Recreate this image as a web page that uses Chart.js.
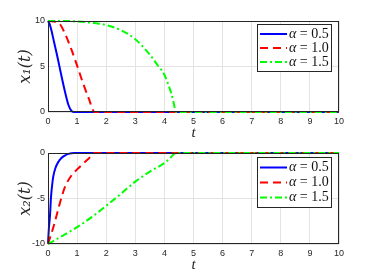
<!DOCTYPE html>
<html>
<head>
<meta charset="utf-8">
<script src="https://cdn.jsdelivr.net/npm/chart.js"></script>
<style>
  html, body { margin: 0; padding: 0; background: #fff; }
  #wrap { position: relative; width: 374px; height: 280px; }
  canvas { position: absolute; left: 0; }
  #c1 { top: 0; }
  #c2 { top: 140px; }
</style>
</head>
<body>
<div id="wrap">
  <canvas id="c1" width="374" height="140"></canvas>
  <canvas id="c2" width="374" height="140"></canvas>
</div>
<script>
// legend values
const alphas = ['0.5', '1.0', '1.5'];
const colors = ['#0000ff', '#ff0000', '#00ff00'];
const dashes = [[], [8, 5], [7, 3, 2, 3]];

const xTicks = [0, 1, 2, 3, 4, 5, 6, 7, 8, 9, 10];
const y1Ticks = [0, 5, 10];
const y2Ticks = [-10, -5, 0];

// x1(t)
const t1a = [0, 0.05, 0.1, 0.2, 0.3, 0.4, 0.5, 0.6, 0.7, 0.8, 0.88, 10];
const x1a = [10, 9.7, 9.2, 7.8, 6.4, 4.9, 3.4, 2.0, 0.8, 0.15, 0, 0];
const t1b = [0, 0.2, 0.4, 0.6, 0.8, 1.0, 1.2, 1.4, 1.6, 10];
const x1b = [10, 9.95, 9.7, 8.5, 6.9, 5.1, 3.2, 1.5, 0, 0];
const t1c = [0, 0.5, 1, 1.5, 2, 2.5, 3, 3.5, 3.8, 4, 4.2, 4.3, 4.4, 10];
const x1c = [10, 10, 9.95, 9.8, 9.55, 9.0, 8.0, 6.3, 5.0, 4.1, 2.4, 1.3, 0, 0];

// x2(t)
const t2a = [0, 0.03, 0.07, 0.1, 0.14, 0.18, 0.25, 0.36, 0.46, 0.58, 0.7, 0.9, 10];
const x2a = [-10, -8.3, -6.8, -5.0, -3.6, -2.6, -1.7, -0.95, -0.55, -0.28, -0.1, 0, 0];
const t2b = [0, 0.1, 0.2, 0.3, 0.4, 0.5, 0.6, 0.8, 1.0, 1.2, 1.4, 1.6, 10];
const x2b = [-10, -9.0, -8.0, -6.8, -5.6, -4.5, -3.6, -2.5, -1.8, -1.2, -0.6, 0, 0];
const t2c = [0, 0.5, 1, 1.5, 2, 2.5, 3, 3.5, 4, 4.2, 4.4, 10];
const x2c = [-10, -9.1, -8.15, -7.05, -5.8, -4.5, -3.15, -2.05, -1.1, -0.55, 0, 0];

const pts = (ts, vs) => ts.map((t, i) => ({ x: t, y: vs[i] }));

function makeDatasets(series) {
  return series.map((s, i) => ({
    label: 'α = ' + alphas[i],
    data: pts(s[0], s[1]),
    borderColor: colors[i],
    borderWidth: 2,
    borderDash: dashes[i],
    pointRadius: 0,
    cubicInterpolationMode: 'monotone',
    clip: 4,
    order: 2 - i
  }));
}

// draws the axes box and a MATLAB-like legend with italic alpha
const boxLegend = {
  id: 'boxLegend',
  afterDraw(chart, args, opts) {
    const ctx = chart.ctx;
    const a = chart.chartArea;
    ctx.save();
    ctx.strokeStyle = '#262626';
    ctx.lineWidth = 1;
    ctx.strokeRect(Math.round(a.left) + 0.5, Math.round(a.top) + 0.5,
      Math.round(a.right - a.left) - 1, Math.round(a.bottom - a.top) - 1);

    const b = opts.box;
    ctx.fillStyle = '#fff';
    ctx.fillRect(b.x, b.y, b.w, b.h);
    ctx.strokeRect(b.x + 0.5, b.y + 0.5, b.w - 1, b.h - 1);
    const rowH = (b.h - 6) / 3;
    chart.data.datasets.forEach((ds, i) => {
      const cy = b.y + 3 + rowH * (i + 0.5);
      ctx.beginPath();
      ctx.setLineDash(ds.borderDash);
      ctx.strokeStyle = ds.borderColor;
      ctx.lineWidth = 2;
      ctx.moveTo(b.x + 3, cy);
      ctx.lineTo(b.x + 30, cy);
      ctx.stroke();
      ctx.setLineDash([]);
      ctx.fillStyle = '#111';
      ctx.textBaseline = 'middle';
      ctx.font = 'italic 14px "Liberation Serif", serif';
      ctx.fillText('α', b.x + 32, cy);
      const w = ctx.measureText('α').width;
      ctx.font = '14px "Liberation Serif", serif';
      ctx.fillText(' = ' + alphas[i], b.x + 32 + w, cy);
    });
    ctx.restore();
  }
};

function makeChart(id, series, yTicks, yTitle, pad, box) {
  return new Chart(document.getElementById(id), {
    type: 'line',
    data: { datasets: makeDatasets(series) },
    plugins: [boxLegend],
    options: {
      responsive: false,
      animation: false,
      layout: { padding: { top: pad.top, bottom: pad.bottom, left: 16, right: 35 } },
      plugins: {
        legend: { display: false },
        tooltip: { enabled: false },
        boxLegend: { box: box }
      },
      scales: {
        x: {
          type: 'linear',
          min: 0, max: 10,
          afterBuildTicks: s => { s.ticks = xTicks.map(v => ({ value: v })); },
          afterFit: s => { s.height = 30; },
          grid: { color: '#e3e3e3', drawTicks: false },
          border: { display: false },
          ticks: { color: '#262626', font: { size: 9, family: 'Liberation Sans, Arial, sans-serif' }, padding: 4, maxRotation: 0 },
          title: { display: true, text: 't', color: '#262626', padding: 0,
            font: { size: 15, style: 'italic', family: '"Liberation Serif", serif' } }
        },
        y: {
          type: 'linear',
          min: yTicks[0], max: yTicks[yTicks.length - 1],
          afterBuildTicks: s => { s.ticks = yTicks.map(v => ({ value: v })); },
          afterFit: s => { s.width = 32; },
          grid: { color: '#e3e3e3', drawTicks: false },
          border: { display: false },
          ticks: { color: '#262626', font: { size: 9, family: 'Liberation Sans, Arial, sans-serif' }, padding: 3 },
          title: { display: true, text: yTitle, color: '#262626', padding: 0,
            font: { size: 16, style: 'italic', family: '"DejaVu Serif", serif' } }
        }
      }
    }
  });
}

makeChart('c1', [[t1a, x1a], [t1b, x1b], [t1c, x1c]], y1Ticks, 'x₁(t)',
  { top: 21, bottom: -2 }, { x: 257, y: 24, w: 75, h: 48 });
makeChart('c2', [[t2a, x2a], [t2b, x2b], [t2c, x2c]], y2Ticks, 'x₂(t)',
  { top: 13, bottom: 6 }, { x: 257, y: 17, w: 75, h: 51 });
</script>
</body>
</html>
